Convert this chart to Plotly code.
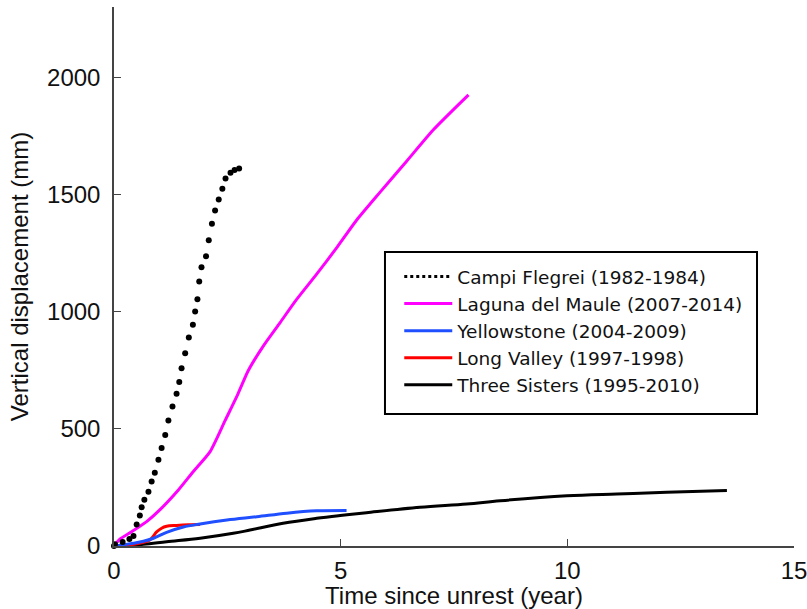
import plotly.graph_objects as go

# ---- data ----
cf_x = [0.0, 0.02, 0.19, 0.34, 0.43, 0.50, 0.57, 0.61, 0.67, 0.76, 0.83, 0.90, 0.98, 1.05, 1.13,
        1.20, 1.29, 1.38, 1.44, 1.49, 1.57, 1.65, 1.74, 1.79, 1.84, 1.88, 1.93, 2.03, 2.09,
        2.16, 2.23, 2.31, 2.39, 2.46, 2.57, 2.66, 2.76]
cf_y = [0, 7, 17, 30, 43, 92, 130, 165, 197, 232, 275, 313, 368, 418, 474,
        535, 595, 650, 700, 759, 823, 890, 944, 1001, 1053, 1129, 1189, 1236, 1305,
        1375, 1432, 1479, 1524, 1568, 1593, 1604, 1611]

lm_x = [0.0, 0.13, 0.39, 0.72, 1.01, 1.42, 1.75, 2.12, 2.45, 2.71, 2.96, 3.30, 3.66, 4.00,
        4.47, 4.91, 5.35, 5.87, 6.46, 7.04, 7.82]
lm_y = [0, 29, 61, 104, 154, 239, 318, 403, 535, 638, 748, 855, 952, 1045,
        1160, 1272, 1390, 1510, 1643, 1775, 1925]

ys_x = [0.0, 0.43, 0.65, 0.87, 1.16, 1.53, 1.90, 2.49, 3.15, 3.81, 4.47, 5.13]
ys_y = [0, 12, 20, 33, 58, 81, 94, 111, 125, 140, 150, 152]

lv_x = [0.0, 0.43, 0.79, 0.94, 1.05, 1.16, 1.38, 1.64, 1.90]
lv_y = [0, 7, 26, 60, 76, 84, 88, 91, 92]

ts_x = [0.0, 0.65, 1.16, 1.90, 2.63, 3.0, 3.73, 4.47, 4.99, 5.57, 6.75, 7.78, 8.52, 9.99, 11.09, 12.19, 13.52]
ts_y = [0, 7, 18, 33, 54, 68, 97, 118, 130, 142, 165, 179, 193, 214, 222, 229, 237]

names = ["Campi Flegrei (1982-1984)", "Laguna del Maule (2007-2014)", "Yellowstone (2004-2009)",
         "Long Valley (1997-1998)", "Three Sisters (1995-2010)"]
x_ticks = [0, 5, 10, 15]
y_ticks = [0, 500, 1000, 1500, 2000]

fig = go.Figure()

fig.add_trace(go.Scatter(x=ts_x, y=ts_y, mode="lines", name=names[4], legendrank=5,
                         line=dict(color="#000000", width=3, shape="spline")))
fig.add_trace(go.Scatter(x=lv_x, y=lv_y, mode="lines", name=names[3], legendrank=4,
                         line=dict(color="#ff0000", width=3, shape="spline")))
fig.add_trace(go.Scatter(x=ys_x, y=ys_y, mode="lines", name=names[2], legendrank=3,
                         line=dict(color="#1f4fff", width=3, shape="spline")))
fig.add_trace(go.Scatter(x=lm_x, y=lm_y, mode="lines", name=names[1], legendrank=2,
                         line=dict(color="#ff00ff", width=3, shape="spline", smoothing=0.6)))
# legend-only entry for the dotted series
fig.add_trace(go.Scatter(x=[None], y=[None], mode="lines", name=names[0], legendrank=1,
                         legendgroup="cf", line=dict(color="#000000", width=3, dash="dot")))
fig.add_trace(go.Scatter(x=cf_x, y=cf_y, mode="markers", name=names[0], legendgroup="cf",
                         showlegend=False, cliponaxis=False,
                         marker=dict(color="#000000", size=6)))

axis_font = dict(family="Liberation Sans, Arial, sans-serif", size=24, color="#111111")

fig.update_layout(
    width=807, height=609,
    margin=dict(l=114, r=13, t=7, b=63, autoexpand=False),
    paper_bgcolor="white", plot_bgcolor="white",
    showlegend=True,
    legend=dict(x=0.4195, y=0.5343, xanchor="left", yanchor="top",
                bgcolor="rgba(0,0,0,0)", borderwidth=0,
                font=dict(family="DejaVu Sans, sans-serif", size=18.5, color="#111111"),
                itemwidth=48, traceorder="normal"),
    xaxis=dict(range=[0, 15], tickvals=x_ticks, ticks="inside", ticklen=7, tickwidth=1.3,
               tickcolor="#444444", showline=True, linecolor="#444444", linewidth=1.5,
               showgrid=False, zeroline=False, tickfont=axis_font, ticklabeloverflow="allow",
               automargin=False,
               title=dict(text="Time since unrest (year)", font=axis_font, standoff=2),
               ticklabelstandoff=2),
    yaxis=dict(range=[0, 2300], tickvals=y_ticks, ticks="inside", ticklen=7, tickwidth=1.3,
               tickcolor="#444444", showline=True, linecolor="#444444", linewidth=1.5,
               showgrid=False, zeroline=False, tickfont=axis_font, automargin=False,
               title=dict(text="Vertical displacement (mm)", font=axis_font, standoff=12),
               ticklabelstandoff=7),
    shapes=[dict(type="rect", xref="paper", yref="paper",
                 x0=0.3985, x1=0.9456, y0=0.2449, y1=0.5455,
                 line=dict(color="#000000", width=2), fillcolor="rgba(0,0,0,0)")],
)

fig.write_html("out.html")
